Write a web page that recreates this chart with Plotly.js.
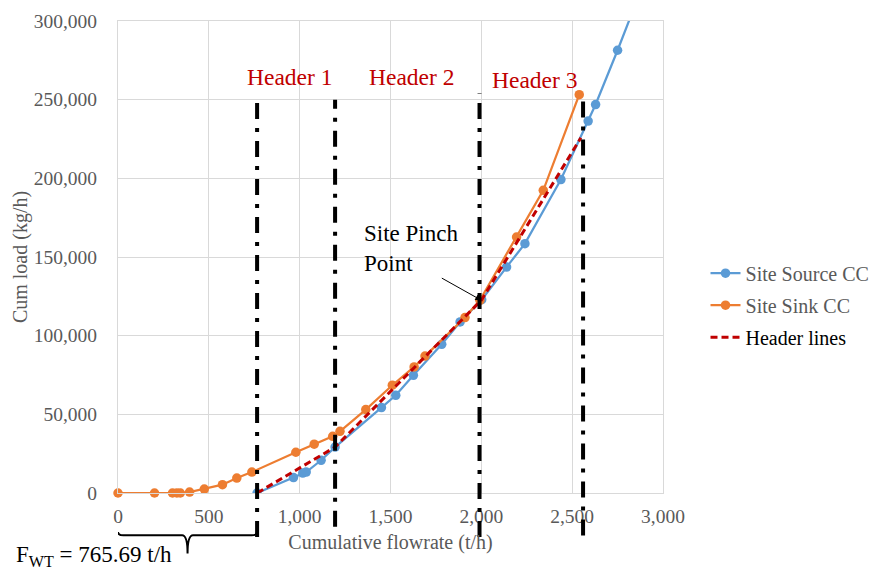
<!DOCTYPE html>
<html>
<head>
<meta charset="utf-8">
<script src="https://cdn.plot.ly/plotly-3.0.1.min.js"></script>
<style>html,body{margin:0;padding:0;background:#fff;}#chart{width:874px;height:572px;}</style>
</head>
<body>
<div id="chart"></div>
<script>
// ---- data ----
const sourceX = [765.69, 966, 1017, 1036, 1118, 1195, 1450, 1529, 1626, 1782, 1883, 2002, 2139, 2240, 2438, 2588, 2629, 2750, 2900];
const sourceY = [0, 9800, 12700, 13300, 20800, 29200, 54300, 62100, 74800, 94500, 108700, 122900, 143600, 158500, 199200, 236400, 246900, 281400, 326000];

const sinkX = [0, 201, 300, 324, 343, 394, 475, 575, 654, 737, 979, 1080, 1182, 1222, 1364, 1510, 1630, 1690, 1910, 1992, 2194, 2341, 2539];
const sinkY = [0, 0, 0, 0, 0, 600, 2500, 5300, 9500, 13300, 25900, 31000, 36000, 39200, 53000, 68500, 80100, 87000, 111500, 122500, 162700, 192400, 253200];

const headerLineX = [765.69, 1195, 2000, 2548];
const headerLineY = [0, 29200, 122500, 225800];

const headerBoundX = [765.69, 1195, 1990, 2560];
const headerBoundTop = [251700, 250000, 253900, 254500];
const headerBoundBottom = [-28000, -21500, -28000, -27000];

const headerLabels = ["Header 1", "Header 2", "Header 3"];
const headerLabelX = [942, 1615, 2290];
const headerLabelY = [264500, 264500, 262500];

const pinchX = 2000, pinchY = 122500;
const fwt = 765.69;

const xTicks = [0, 500, 1000, 1500, 2000, 2500, 3000];
const yTicks = [0, 50000, 100000, 150000, 200000, 250000, 300000];
const xRange = [0, 3000], yRange = [0, 300000];

// ---- styling ----
const SERIF = "Liberation Serif";
const GREY = "#595959";
const toPaperY = v => (v - yRange[0]) / (yRange[1] - yRange[0]);

const traces = [
  {x: sourceX, y: sourceY, name: "Site Source CC", type: "scatter", mode: "lines+markers",
   line: {color: "#5B9BD5", width: 2.25}, marker: {color: "#5B9BD5", size: 9.5}, legendgroup: "a", cliponaxis: true},
  {x: sinkX, y: sinkY, name: "Site Sink CC", type: "scatter", mode: "lines+markers",
   line: {color: "#ED7D31", width: 2.25}, marker: {color: "#ED7D31", size: 9.5}, legendgroup: "b", cliponaxis: false},
  {x: headerLineX, y: headerLineY, name: '<span style="color:#000000">Header lines</span>', type: "scatter", mode: "lines",
   line: {color: "#C00000", width: 3, dash: "7px,4px"}, legendgroup: "c"}
];

const shapes = headerBoundX.map((x, i) => ({
  type: "line", xref: "x", yref: "paper", x0: x, x1: x,
  y0: toPaperY(headerBoundBottom[i]), y1: toPaperY(headerBoundTop[i]),
  line: {color: "#000000", width: 4, dash: "16px,9px,4px,9px"}, layer: "above"
}));

// curly brace under the axis, spanning 0 .. F_WT
const bTop = -0.0826, bMid = -0.0896, bTip = -0.128, c = fwt / 2;
shapes.push({
  type: "path", xref: "x", yref: "paper",
  path: `M 0,${bTop} Q 0,${bMid} 30,${bMid} L ${c - 30},${bMid} Q ${c},${bMid} ${c},${bTip} Q ${c},${bMid} ${c + 30},${bMid} L ${fwt - 30},${bMid} Q ${fwt},${bMid} ${fwt},${bTop}`,
  line: {color: "#000000", width: 2}, layer: "above"
});

const annotations = headerLabels.map((t, i) => ({
  text: t, x: headerLabelX[i], y: headerLabelY[i], xref: "x", yref: "y",
  showarrow: false, font: {family: SERIF, size: 23.5, color: "#C00000"}, xanchor: "center", yanchor: "middle"
}));
annotations.push({
  text: "Site Pinch<br>Point", x: 1342, y: 155300, xref: "x", yref: "y", align: "left",
  showarrow: false, xanchor: "left", yanchor: "middle", font: {family: SERIF, size: 23, color: "#000000"}
});
annotations.push({
  text: "", x: pinchX, y: pinchY, xref: "x", yref: "y", showarrow: true,
  ax: -41, ay: -23, arrowhead: 2, arrowsize: 1.2, arrowwidth: 1, arrowcolor: "#000000", standoff: 0
});
annotations.push({
  text: "F<sub>WT</sub> = 765.69 t/h", xref: "paper", yref: "paper", x: -0.191, y: -0.134,
  xanchor: "left", yanchor: "middle", showarrow: false, font: {family: SERIF, size: 23, color: "#000000"}
});

const axisCommon = {
  showgrid: true, gridcolor: "#D9D9D9", gridwidth: 1,
  showline: true, linecolor: "#D9D9D9", linewidth: 1, mirror: true,
  zeroline: false, ticks: "", tickformat: ",d",
  tickfont: {family: SERIF, size: 19.5, color: GREY}
};

const layout = {
  width: 874, height: 572,
  margin: {l: 118, r: 211, t: 21, b: 79, pad: 0, autoexpand: false},
  paper_bgcolor: "#ffffff", plot_bgcolor: "#ffffff",
  font: {family: SERIF, color: GREY},
  xaxis: Object.assign({}, axisCommon, {
    range: xRange, tickvals: xTicks, ticklabelstandoff: 6,
    title: {text: "Cumulative flowrate (t/h)", font: {family: SERIF, size: 20, color: GREY}, standoff: 8}
  }),
  yaxis: Object.assign({}, axisCommon, {
    range: yRange, tickvals: yTicks, ticklabelstandoff: 16,
    title: {text: "Cum load (kg/h)", font: {family: SERIF, size: 20, color: GREY}, standoff: 0}
  }),
  legend: {
    x: 1.078, y: 0.507, xanchor: "left", yanchor: "top",
    font: {family: SERIF, size: 20, color: GREY},
    traceorder: "grouped", tracegroupgap: 3, bgcolor: "rgba(0,0,0,0)"
  },
  showlegend: true,
  shapes: shapes,
  annotations: annotations
};

Plotly.newPlot("chart", traces, layout, {displayModeBar: false, staticPlot: true});
</script>
</body>
</html>
